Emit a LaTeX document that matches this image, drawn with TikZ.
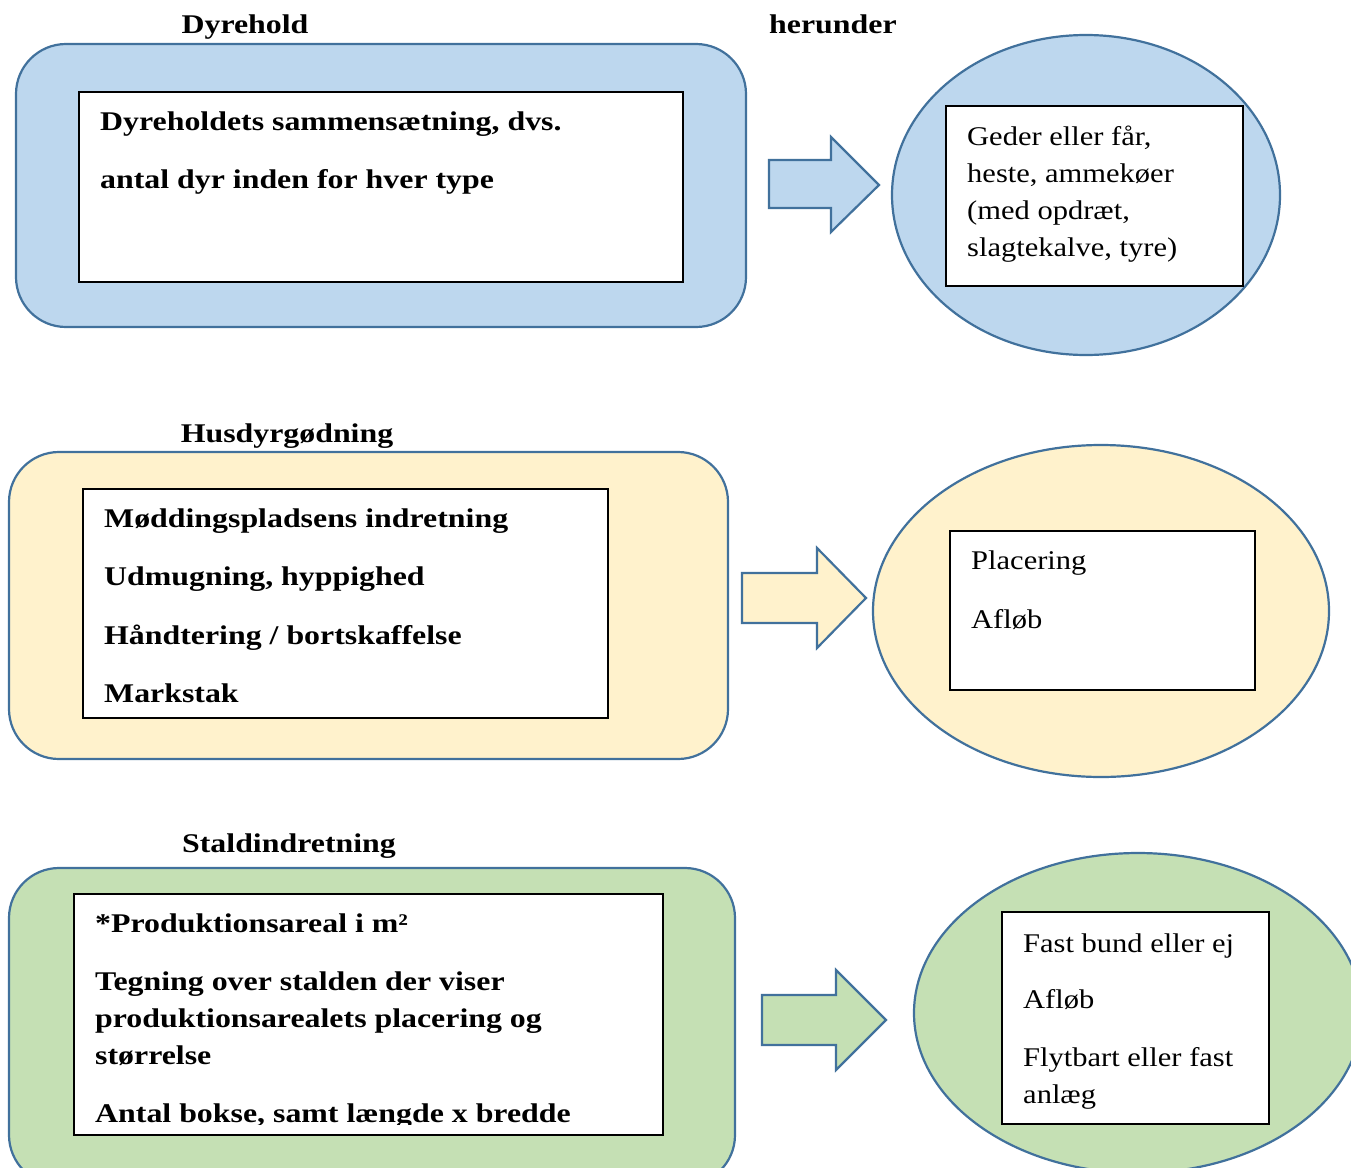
\documentclass[tikz,border=0pt]{standalone}
\usepackage{fontspec}
\setmainfont{Liberation Serif}[FakeStretch=1.13, BoldFeatures={FakeStretch=1.18}]
\definecolor{edge}{HTML}{41719C}
\definecolor{bluefill}{HTML}{BDD7EE}
\definecolor{yellowfill}{HTML}{FFF2CC}
\definecolor{greenfill}{HTML}{C5E0B4}
\tikzset{
  outer/.style={draw=edge, line width=2.2pt, rounded corners=50pt},
  oval/.style={draw=edge, line width=2.2pt},
  blockarrow/.style={draw=edge, line width=2.2pt, line join=miter},
  innerbox/.style={draw=black, line width=1.8pt, fill=white, inner sep=0pt},
  txt/.style={anchor=base west, inner sep=0pt, font=\fontsize{27}{30}\selectfont},
  btxt/.style={anchor=base west, inner sep=0pt, font=\bfseries\fontsize{27}{30}\selectfont},
  title/.style={anchor=base, inner sep=0pt, font=\bfseries\fontsize{27}{30}\selectfont},
}
\begin{document}
\begin{tikzpicture}[x=1pt,y=-1pt]
\clip (0,0) rectangle (1351,1167);
\fill[white] (0,0) rectangle (1351,1167);

% ---------- Row 1 ----------
\node[title] (t1) at (245,33) {Dyrehold};
\node[title, anchor=base west] (t1b) at (769,33) {herunder};
\draw[outer, fill=bluefill] (16,44) rectangle (746,327);
\node[innerbox, minimum width=604pt, minimum height=190pt] (b1) at (381,187) {};
\node[btxt] (l1a) at (100,130) {Dyreholdets sammensætning, dvs.};
\node[btxt] (l1b) at (100,188) {antal dyr inden for hver type};
\draw[blockarrow, fill=bluefill] (769,160) -- (831,160) -- (831,137) -- (879,185) -- (831,232) -- (831,208) -- (769,208) -- cycle;
\draw[oval, fill=bluefill] (1086,195) ellipse [x radius=194, y radius=160];
\node[innerbox, minimum width=297pt, minimum height=180pt] (r1) at (1094.5,196) {};
\node[txt] (r1a) at (967,145) {Geder eller får,};
\node[txt] (r1b) at (967,182) {heste, ammekøer};
\node[txt] (r1c) at (967,219) {(med opdræt,};
\node[txt] (r1d) at (967,256) {slagtekalve, tyre)};

% ---------- Row 2 ----------
\node[title] (t2) at (287,442) {Husdyrgødning};
\draw[outer, fill=yellowfill] (9,452) rectangle (728,759);
\node[innerbox, minimum width=525pt, minimum height=229pt] (b2) at (345.5,603.5) {};
\node[btxt] (l2a) at (104,527) {Møddingspladsens indretning};
\node[btxt] (l2b) at (104,585) {Udmugning, hyppighed};
\node[btxt] (l2c) at (104,644) {Håndtering / bortskaffelse};
\node[btxt] (l2d) at (104,702) {Markstak};
\draw[blockarrow, fill=yellowfill] (742,573) -- (817,573) -- (817,548) -- (866,598) -- (817,648) -- (817,623) -- (742,623) -- cycle;
\draw[oval, fill=yellowfill] (1101,611) ellipse [x radius=228, y radius=166];
\node[innerbox, minimum width=305pt, minimum height=159pt] (r2) at (1102.5,610.5) {};
\node[txt] (r2a) at (971,569) {Placering};
\node[txt] (r2b) at (971,628) {Afløb};

% ---------- Row 3 ----------
\node[title] (t3) at (289,852) {Staldindretning};
\draw[outer, fill=greenfill] (9,868) rectangle (735,1185);
\node[innerbox, minimum width=589pt, minimum height=241pt] (b3) at (368.5,1014.5) {};
\begin{scope}
\clip (74,894) rectangle (663,1124);
\node[btxt] (l3a) at (95,932) {*Produktionsareal i m²};
\node[btxt] (l3b) at (95,990) {Tegning over stalden der viser};
\node[btxt] (l3c) at (95,1027) {produktionsarealets placering og};
\node[btxt] (l3d) at (95,1064) {størrelse};
\node[btxt] (l3e) at (95,1122) {Antal bokse, samt længde x bredde};
\end{scope}
\draw[blockarrow, fill=greenfill] (762,995) -- (836,995) -- (836,970) -- (886,1020) -- (836,1070) -- (836,1045) -- (762,1045) -- cycle;
\draw[oval, fill=greenfill] (1138,1013) ellipse [x radius=224, y radius=160];
\node[innerbox, minimum width=267pt, minimum height=212pt] (r3) at (1135.5,1018) {};
\node[txt] (r3a) at (1023,952) {Fast bund eller ej};
\node[txt] (r3b) at (1023,1008) {Afløb};
\node[txt] (r3c) at (1023,1066) {Flytbart eller fast};
\node[txt] (r3d) at (1023,1103) {anlæg};
\end{tikzpicture}
\end{document}
